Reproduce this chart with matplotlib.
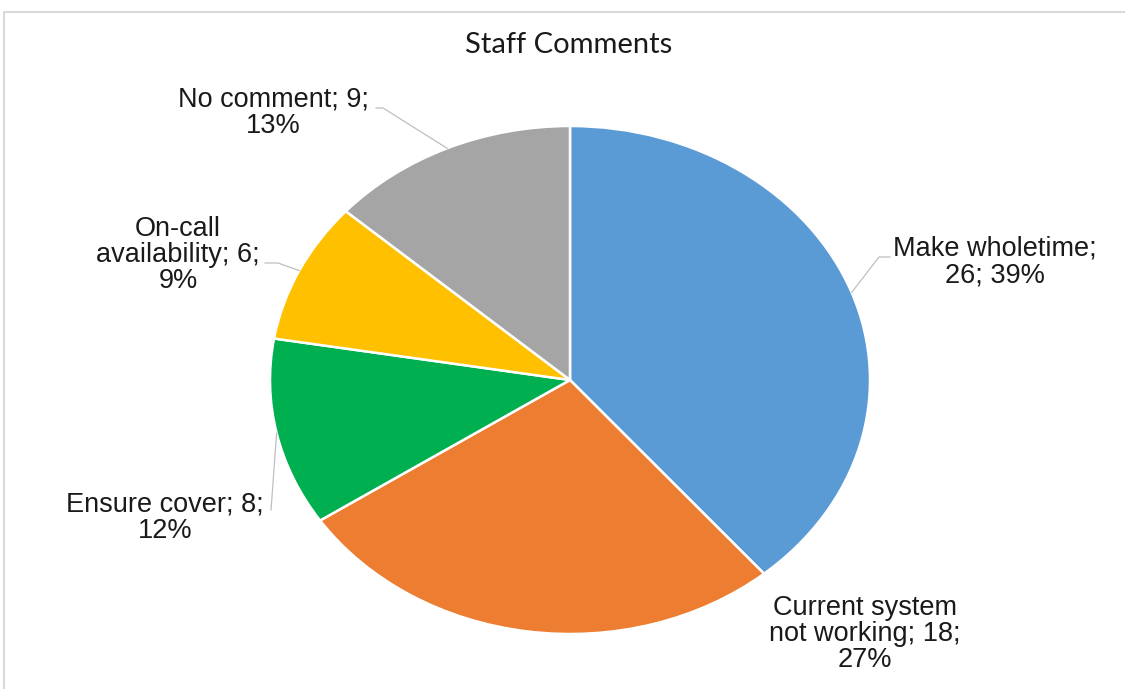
import matplotlib.pyplot as plt
import numpy as np

# staff comment categories, clockwise from 12 o'clock
categories = ['Make wholetime', 'Current system not working', 'Ensure cover',
              'On-call availability', 'No comment']
counts = [26, 18, 8, 6, 9]
label_texts = ['Make wholetime;\n26; 39%',
               'Current system\nnot working; 18;\n27%',
               'Ensure cover; 8;\n12%',
               'On-call\navailability; 6;\n9%',
               'No comment; 9;\n13%']
colors = ['#5B9BD5', '#ED7D31', '#00B050', '#FFC000', '#A5A5A5']

W, H = 1125, 689
fig = plt.figure(figsize=(W / 100, H / 100), dpi=100)

# pie is stretched into an ellipse, so give it its own box
cx, cy, rx, ry = 570, 380, 300, 254
pax = fig.add_axes([(cx - rx) / W, (H - cy - ry) / H, 2 * rx / W, 2 * ry / H])
wedges, _ = pax.pie(counts, colors=colors, startangle=90, counterclock=False,
                    radius=1, wedgeprops=dict(edgecolor='white', linewidth=1.8))
pax.set_aspect('auto')
pax.set_xlim(-1, 1)
pax.set_ylim(-1, 1)
pax.axis('off')

# overlay in pixel coordinates for frame, title and labels
ax = fig.add_axes([0, 0, 1, 1], zorder=3)
ax.set_xlim(0, W)
ax.set_ylim(H, 0)
ax.axis('off')
ax.patch.set_alpha(0)

ax.plot([4, 4, W + 5], [H + 5, 12, 12], color='#D9D9D9', lw=1.5)
ax.text(569, 45, 'Staff Comments', ha='center', va='center',
        fontsize=21, family='Lato', color='#1a1a1a')

label_pos = [(995, 262), (865, 634), (165, 518), (178, 255), (273, 113)]
# elbow points of the leader lines (None = no leader)
elbows = [[(879, 257), (890, 257)], None, [(271, 510)],
          [(278, 263), (265, 263)], [(383, 108), (376, 108)]]

for w, txt, (lx, ly), elb in zip(wedges, label_texts, label_pos, elbows):
    ax.text(lx, ly, txt, ha='center', va='center', fontsize=19.5,
            family='Liberation Sans', color='#1a1a1a', linespacing=1.02)
    if elb is None:
        continue
    mid = np.deg2rad((w.theta1 + w.theta2) / 2)
    px = cx + rx * np.cos(mid)
    py = cy - ry * np.sin(mid)
    xs = [px] + [p[0] for p in elb]
    ys = [py] + [p[1] for p in elb]
    ax.plot(xs, ys, color='#BFBFBF', lw=0.9)

fig.savefig('out.png', dpi=100, facecolor='white')
